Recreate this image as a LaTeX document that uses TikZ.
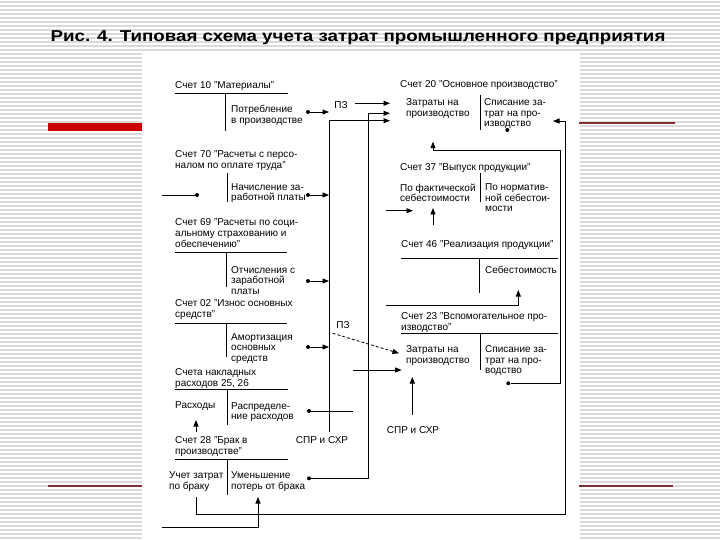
\documentclass[tikz,border=0pt]{standalone}
\usepackage{fontspec}
\setmainfont{Liberation Sans}
\usetikzlibrary{arrows.meta}
\definecolor{slidered}{HTML}{CC0000}
\definecolor{linered}{HTML}{803030}
\definecolor{stripegray}{HTML}{DADADA}
\begin{document}
\begin{tikzpicture}[x=1pt,y=-1pt,
 stripe/.style={line width=1.3pt,stripegray},
 body/.style={anchor=north west,inner sep=0pt,align=left,font=\fontsize{10}{10.5}\selectfont},
 head/.style={anchor=north west,inner sep=0pt,align=left,font=\fontsize{10}{11}\selectfont},
 one/.style={anchor=west,inner sep=0pt,font=\fontsize{10}{11}\selectfont},
 lbl/.style={inner sep=0pt,font=\fontsize{10}{11}\selectfont},
 ln/.style={line width=0.8pt},
 arr/.style={ln,-{Triangle[length=6.5pt,width=5pt]}},
 dotn/.style={circle,fill,inner sep=0pt,minimum size=4pt}]
\useasboundingbox (0,0) rectangle (720,540);
\fill[white] (0,0) rectangle (720,540);
% stripes
\foreach \y in {2,6,...,538} {\draw[stripe] (0,\y) -- (142,\y); \draw[stripe] (580,\y) -- (720,\y);}
\foreach \y in {2,6,...,50} {\draw[stripe] (142,\y) -- (580,\y);}
% red decorations
\fill[slidered] (48,123) rectangle (142,131);
\draw[linered,line width=1.2pt] (579,123) -- (675,123);
\draw[linered,line width=1.2pt] (48,486) -- (142,486);
\draw[linered,line width=1.2pt] (579,486) -- (673,486);
% title
\node (title) at (358,38) {\scalebox{1.25}[1.05]{\bfseries\fontsize{15}{18}\selectfont Рис. 4. Типовая схема учета затрат промышленного предприятия}};

% ---------- left column ----------
% Счет 10
\node[one] (h10) at (175,86) {Счет 10 "Материалы"};
\draw[ln] (175,93.3) -- (288,93.3);
\draw[ln] (225,93.3) -- (225,131);
\node[body] (c10) at (231,105.3) {Потребление\\в производстве};
\node[dotn] (d10) at (308,112) {};
\coordinate (b10) at (329,112);
\draw[arr] (d10) -- (b10);
% Счет 70
\node[head] (h70) at (175,150.3) {Счет 70 "Расчеты с персо-\\налом по оплате труда"};
\draw[ln] (227,173) -- (227,202);
\node[body] (c70) at (231,183.3) {Начисление за-\\работной платы};
\node[dotn] (d70) at (308,195) {};
\coordinate (b70) at (329,195);
\draw[arr] (d70) -- (b70);
\coordinate (in70) at (162,195);
\node[dotn] (e70) at (197,195) {};
\draw[ln] (in70) -- (e70);
% Счет 69
\node[head] (h69) at (175,218.3) {Счет 69 "Расчеты по соци-\\альному страхованию и\\обеспечению"};
\draw[ln] (175,252) -- (287,252);
\draw[ln] (226,252) -- (226,287);
\node[body] (c69) at (231,266) {Отчисления с\\заработной\\платы};
\node[dotn] (d69) at (308,281) {};
\coordinate (b69) at (329,281);
\draw[arr] (d69) -- (b69);
% Счет 02
\node[head] (h02) at (175,299.3) {Счет 02 "Износ основных\\средств"};
\draw[ln] (175,323.3) -- (287,323.3);
\draw[ln] (226,323.3) -- (226,357);
\node[body] (c02) at (231,333.3) {Амортизация\\основных\\средств};
\node[dotn] (d02) at (308,347) {};
\coordinate (b02) at (329,347);
\draw[arr] (d02) -- (b02);
% Счета 25, 26
\node[head] (h25) at (175,368.3) {Счета накладных\\расходов 25, 26};
\draw[ln] (175,389.3) -- (288,389.3);
\draw[ln] (227,389.3) -- (227,425);
\node[one] (a25) at (175,406.5) {Расходы};
\node[body] (c25) at (231,402) {Распределе-\\ние расходов};
\node[dotn] (d25) at (309,411) {};
\coordinate (e25) at (353,411);
\draw[ln] (d25) -- (e25);
\coordinate (s28) at (196,432);
\coordinate (t25) at (196,420);
\draw[arr] (s28) -- (t25);
% Счет 28
\node[head] (h28) at (175,436.3) {Счет 28 "Брак в\\производстве"};
\draw[ln] (175,459.3) -- (288,459.3);
\draw[ln] (227,459.3) -- (227,495);
\node[body] (a28) at (169,471.5) {Учет затрат\\по браку};
\node[body] (c28) at (231,471.5) {Уменьшение\\потерь от брака};
\node[dotn] (d28) at (309,478.3) {};
\coordinate (t28a) at (196,497);
\coordinate (t28b) at (258,497);
\coordinate (in28) at (162,527);
\draw[arr] (in28) -| (t28b);

% buses
\coordinate (busA) at (329,432);
\coordinate (t20c) at (390,120.7);
\draw[arr] (busA) |- (t20c);
\node[lbl] (spr1) at (322,440) {СПР и СХР};
\coordinate (t20b) at (390,113.3);
\draw[arr] (d28) -| (368,113.3) -- (t20b);
\node[lbl] (pz1) at (341,105) {ПЗ};
\coordinate (s20a) at (355,103.3);
\coordinate (t20a) at (390,103.3);
\draw[arr] (s20a) -- (t20a);

% ---------- right column ----------
% Счет 20
\node[one] (h20) at (400,85) {Счет 20 "Основное производство"};
\draw[ln] (480,95) -- (480,130);
\node[body] (a20) at (406,98.8) {Затраты на\\производство};
\node[body] (c20) at (484,98.5) {Списание за-\\трат на про-\\изводство};
\node[dotn] (d20) at (507.3,130) {};
\coordinate (t20d) at (433,141.7);
\coordinate (r20) at (553,121);
\draw[arr] (t28a) |- (565,514) |- (r20);
% Счет 37
\node[one] (h37) at (400,168.3) {Счет 37 "Выпуск продукции"};
\draw[ln] (480,173) -- (480,202);
\node[body] (a37) at (400,183.8) {По фактической\\себестоимости};
\node[body] (c37) at (485,183.8) {По норматив-\\ной себестои-\\мости};
\coordinate (s37a) at (386,210.7);
\coordinate (t37a) at (413,210.7);
\draw[arr] (s37a) -- (t37a);
\coordinate (s37b) at (433,225);
\coordinate (t37b) at (433,208);
\draw[arr] (s37b) -- (t37b);
% Счет 46
\node[one] (h46) at (401,245) {Счет 46 "Реализация продукции"};
\draw[ln] (401,258.3) -- (558,258.3);
\draw[ln] (479.3,258.3) -- (479.3,293);
\node[one] (c46) at (485,270) {Себестоимость};
\coordinate (s46) at (386,305);
\coordinate (t46) at (518.3,290);
\draw[arr] (s46) -| (t46);
% Счет 23
\node[head] (h23) at (401,312.2) {Счет 23 "Вспомогательное про-\\изводство"};
\draw[ln] (401,333.3) -- (558,333.3);
\draw[ln] (480,333.3) -- (480,370);
\node[body] (a23) at (406,345.5) {Затраты на\\производство};
\node[body] (c23) at (485,345.5) {Списание за-\\трат на про-\\водство};
\node[dotn] (d23) at (508.3,383.3) {};
\draw[arr] (d23) -| (560,150) -| (t20d);
\node[lbl] (pz2) at (343,325) {ПЗ};
\coordinate (s23a) at (332.7,333.3);
\coordinate (t23a) at (399,353.3);
\draw[arr,dash pattern=on 3pt off 2pt] (s23a) -- (t23a);
\coordinate (s23b) at (353,370);
\coordinate (t23b) at (401.7,370);
\draw[arr] (s23b) -- (t23b);
\coordinate (s23c) at (412.3,415);
\coordinate (t23c) at (412.3,377);
\draw[arr] (s23c) -- (t23c);
\node[lbl] (spr2) at (413,430) {СПР и СХР};
\end{tikzpicture}
\end{document}
